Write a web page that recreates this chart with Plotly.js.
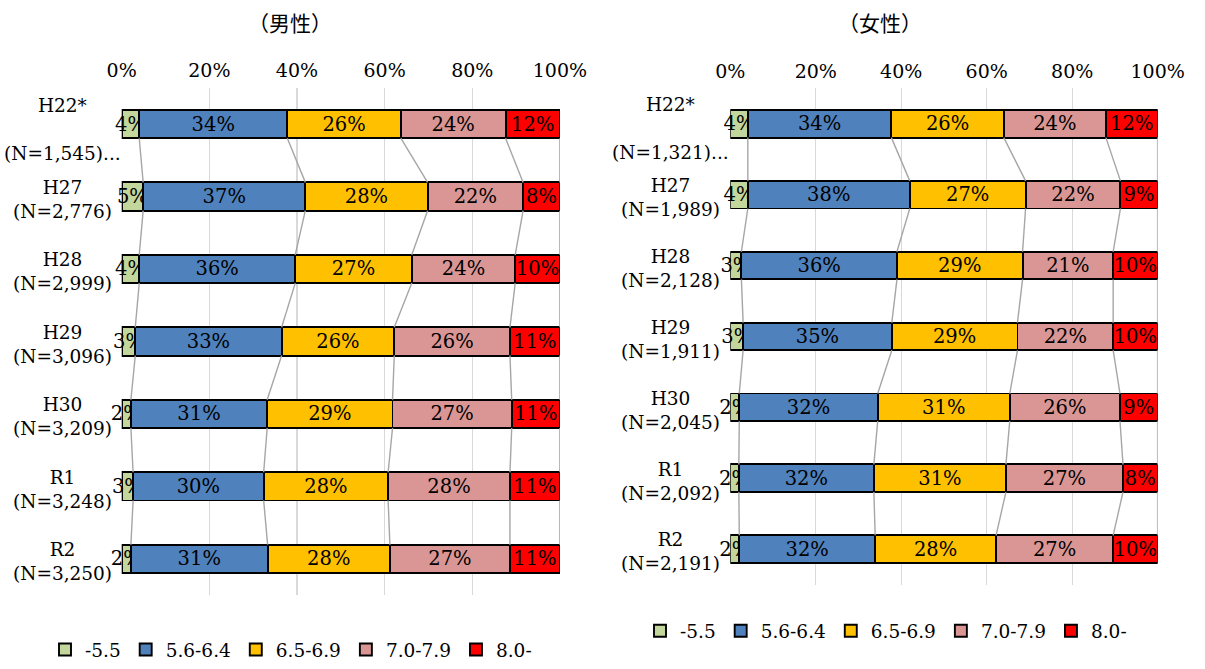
<!DOCTYPE html>
<html><head><meta charset="utf-8">
<script src="https://cdn.plot.ly/plotly-3.0.1.min.js"></script>
<style>html,body{margin:0;padding:0;background:#fff}#chart{width:1205px;height:669px}</style>
</head><body><div id="chart"></div>
<script>
// ---- data ----
const categories = ['H22*', 'H27', 'H28', 'H29', 'H30', 'R1', 'R2'];
const maleN   = ['1,545', '2,776', '2,999', '3,096', '3,209', '3,248', '3,250'];
const femaleN = ['1,321', '1,989', '2,128', '1,911', '2,045', '2,092', '2,191'];
const seriesNames = ['-5.5', '5.6-6.4', '6.5-6.9', '7.0-7.9', '8.0-'];
const seriesColors = ['#c3d69b', '#4f81bd', '#ffc000', '#da9694', '#ff0000'];

// male (%)
const male_le55  = [4.0, 4.9, 4.0, 3.1, 2.1, 2.6, 2.1];
const male_56_64 = [33.8, 37.0, 35.6, 33.4, 31.1, 29.8, 31.2];
const male_65_69 = [25.9, 27.9, 26.6, 25.7, 28.6, 28.4, 27.9];
const male_70_79 = [23.9, 21.8, 23.6, 26.4, 27.2, 27.8, 27.4];
const male_ge80  = [12.4, 8.4, 10.2, 11.4, 11.0, 11.4, 11.4];

// female (%)
const female_le55  = [4.1, 4.1, 2.6, 3.0, 2.1, 2.0, 2.1];
const female_56_64 = [33.6, 37.9, 36.4, 34.8, 32.4, 31.6, 31.8];
const female_65_69 = [26.3, 27.1, 29.4, 29.4, 30.9, 30.9, 28.3];
const female_70_79 = [23.9, 22.2, 21.2, 22.4, 25.8, 27.4, 27.4];
const female_ge80  = [12.1, 8.7, 10.4, 10.4, 8.8, 8.1, 10.4];

const xTicks = [0, 20, 40, 60, 80, 100];
const xTickLabels = ['0%', '20%', '40%', '60%', '80%', '100%'];
const panelTitles = ['（男性）', '（女性）'];

// ---- build ----
const FONT = 'DejaVu Serif';
const CJK = 'Noto Sans CJK JP';
const W = 1205, H = 669;
const BARW = 0.39;
const yIdx = categories.map((_, i) => i);

function catLabel(i, nArr) {
  return i === 0 ? categories[i] + '<br><br>(N=' + nArr[i] + ')...'
                 : categories[i] + '<br>(N=' + nArr[i] + ')';
}

function panel(seriesList, nArr, xa, ya, legendId) {
  const traces = [];
  seriesList.forEach((vals, s) => {
    traces.push({
      type: 'bar', orientation: 'h', x: vals, y: yIdx, width: BARW,
      name: seriesNames[s], xaxis: xa, yaxis: ya, legend: legendId,
      marker: {color: seriesColors[s], line: {color: '#000', width: 1.9}},
      texttemplate: '%{x:.0f}%', textposition: 'inside', insidetextanchor: 'middle',
      textangle: 0, constraintext: 'none', cliponaxis: false,
      textfont: {family: FONT, size: 19.5, color: '#000'},
      hoverinfo: 'skip'
    });
  });
  // series connector lines
  const cum = categories.map(() => 0);
  seriesList.forEach((vals) => {
    vals.forEach((v, i) => { cum[i] += v; });
    const lx = [], ly = [];
    for (let i = 0; i < categories.length - 1; i++) {
      lx.push(cum[i], cum[i + 1], null);
      ly.push(i + BARW / 2, i + 1 - BARW / 2, null);
    }
    traces.push({
      type: 'scatter', mode: 'lines', x: lx, y: ly, xaxis: xa, yaxis: ya,
      line: {color: '#a6a6a6', width: 1.4}, showlegend: false, hoverinfo: 'skip'
    });
  });
  return traces;
}

const maleSeries = [male_le55, male_56_64, male_65_69, male_70_79, male_ge80];
const femaleSeries = [female_le55, female_56_64, female_65_69, female_70_79, female_ge80];

const data = panel(maleSeries, maleN, 'x', 'y', 'legend')
  .concat(panel(femaleSeries, femaleN, 'x2', 'y2', 'legend2'));

const L = {left: 121.7, right: 560, top: 88.5, bottom: 599.5, labelX: 62};
const R = {left: 730.3, right: 1157.7, top: 89, bottom: 589, labelX: 670};

function xAxis(p, anchor) {
  return {
    domain: [p.left / W, p.right / W], anchor: anchor, side: 'top',
    range: [0, 100.02], tickmode: 'array', tickvals: xTicks, ticktext: xTickLabels, ticks: '',
    ticklabelstandoff: 6,
    tickfont: {family: FONT, size: 19, color: '#000'},
    showgrid: true, gridcolor: '#d9d9d9', gridwidth: 1.3,
    zeroline: false, showline: false, fixedrange: true
  };
}
function yAxis(p, anchor) {
  return {
    domain: [1 - p.bottom / H, 1 - p.top / H], anchor: anchor,
    range: [categories.length - 0.5, -0.5], showticklabels: false,
    showgrid: false, zeroline: false, showline: false, ticks: '', fixedrange: true
  };
}

const annotations = [];
categories.forEach((c, i) => {
  annotations.push({xref: 'paper', yref: 'y', x: L.labelX / W, y: i + (i === 0 ? 0.07 : 0.04),
    xanchor: 'center', yanchor: 'middle', align: 'center', showarrow: false,
    text: catLabel(i, maleN), font: {family: FONT, size: 18.5, color: '#000'}});
  annotations.push({xref: 'paper', yref: 'y2', x: R.labelX / W, y: i + (i === 0 ? 0.07 : 0.04),
    xanchor: 'center', yanchor: 'middle', align: 'center', showarrow: false,
    text: catLabel(i, femaleN), font: {family: FONT, size: 18.5, color: '#000'}});
});
annotations.push({xref: 'paper', yref: 'paper', x: 290 / W, y: 1 - 22 / H, xanchor: 'center', yanchor: 'middle',
  showarrow: false, text: panelTitles[0], font: {family: CJK, size: 21, color: '#000'}});
annotations.push({xref: 'paper', yref: 'paper', x: 880 / W, y: 1 - 22 / H, xanchor: 'center', yanchor: 'middle',
  showarrow: false, text: panelTitles[1], font: {family: CJK, size: 21, color: '#000'}});

const layout = {
  width: W, height: H, margin: {l: 0, r: 0, t: 0, b: 0},
  paper_bgcolor: '#fff', plot_bgcolor: '#fff',
  barmode: 'stack', bargap: 0.6,
  font: {family: FONT, size: 18.5, color: '#000'},
  xaxis: xAxis(L, 'y'), yaxis: yAxis(L, 'x'),
  xaxis2: xAxis(R, 'y2'), yaxis2: yAxis(R, 'x2'),
  showlegend: true,
  legend: {orientation: 'h', x: 291 / W, xanchor: 'center', y: 1 - 655 / H, yanchor: 'middle',
    traceorder: 'normal', font: {family: FONT, size: 18.5, color: '#000'}, itemwidth: 30,
    bgcolor: 'rgba(0,0,0,0)'},
  legend2: {orientation: 'h', x: 886 / W, xanchor: 'center', y: 1 - 636 / H, yanchor: 'middle',
    traceorder: 'normal', font: {family: FONT, size: 18.5, color: '#000'}, itemwidth: 30,
    bgcolor: 'rgba(0,0,0,0)'},
  annotations: annotations,
  hovermode: false
};

Plotly.newPlot('chart', data, layout, {displayModeBar: false, staticPlot: true});
</script></body></html>
